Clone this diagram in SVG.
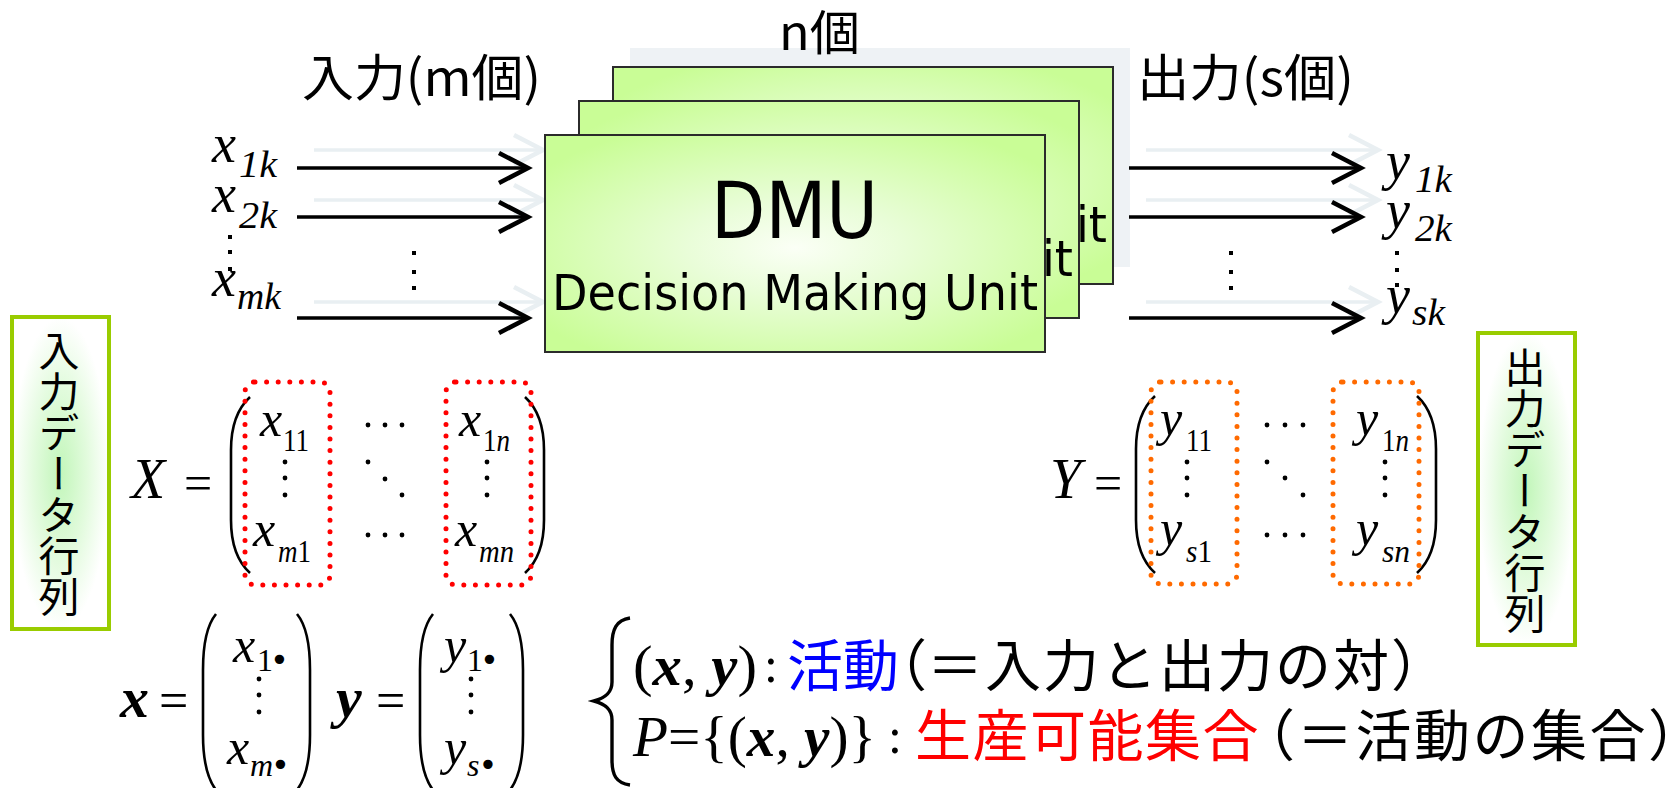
<svg xmlns="http://www.w3.org/2000/svg" width="1672" height="788" viewBox="0 0 1672 788">
<defs>
  <radialGradient id="gBox" cx="50%" cy="52%" r="62%">
    <stop offset="0" stop-color="#fbfff6"/>
    <stop offset="0.35" stop-color="#e9fdd8"/>
    <stop offset="1" stop-color="#c9fd96"/>
  </radialGradient>
  <radialGradient id="gLabel" cx="50%" cy="50%" r="50%">
    <stop offset="0" stop-color="#c2f6ba"/>
    <stop offset="0.55" stop-color="#e2fbdd"/>
    <stop offset="1" stop-color="#ffffff"/>
  </radialGradient>
  <marker id="ah" markerUnits="userSpaceOnUse" markerWidth="38" markerHeight="38" viewBox="0 0 38 38" refX="33" refY="19" orient="auto">
    <path d="M4,4 L33,19 L4,34" fill="none" stroke="#000" stroke-width="4.5"/>
  </marker>
  <marker id="ahg" markerUnits="userSpaceOnUse" markerWidth="38" markerHeight="38" viewBox="0 0 38 38" refX="33" refY="19" orient="auto">
    <path d="M4,4 L33,19 L4,34" fill="none" stroke="#e9eff2" stroke-width="4.5"/>
  </marker>
  <style>
    .cjk{font-family:"Noto Sans CJK JP","Noto Sans CJK SC",sans-serif;fill:#000}
    .m{font-family:"Liberation Serif",serif;font-style:italic;fill:#000}
    .r{font-family:"Liberation Serif",serif;font-style:normal}
    .bi{font-family:"Liberation Serif",serif;font-style:italic;font-weight:bold}
    .bul{font-family:"DejaVu Sans",sans-serif;font-style:normal}
    .box{stroke:#2b2b2b;stroke-width:2;fill:url(#gBox)}
    .dmu{font-family:"DejaVu Sans",sans-serif;fill:#000}
    .arrow{stroke:#000;stroke-width:3.6;fill:none;marker-end:url(#ah)}
    .garrow{stroke:#e9eff2;stroke-width:3.6;fill:none;marker-end:url(#ahg)}
    .redbox{fill:none;stroke:#ff0000;stroke-width:5;stroke-dasharray:0 11.6;stroke-linecap:round}
    .orbox{fill:none;stroke:#ff6a00;stroke-width:5;stroke-dasharray:0 11.6;stroke-linecap:round}
    .paren{fill:none;stroke:#000;stroke-width:2.6}
    .label{fill:url(#gLabel);stroke:#99cc00;stroke-width:4}
    .vtext{writing-mode:vertical-rl}
  </style>
</defs>

<!-- faint shadow layer -->
<g id="shadow">
  <rect x="630" y="48" width="500" height="219" fill="#eef2f5"/>
  <line class="garrow" x1="314" y1="150" x2="543" y2="150"/>
  <line class="garrow" x1="314" y1="200" x2="543" y2="200"/>
  <line class="garrow" x1="314" y1="302" x2="543" y2="302"/>
  <line class="garrow" x1="1146" y1="150" x2="1378" y2="150"/>
  <line class="garrow" x1="1146" y1="200" x2="1378" y2="200"/>
  <line class="garrow" x1="1146" y1="302" x2="1378" y2="302"/>
</g>

<!-- titles -->
<g id="title-input"><text class="cjk" x="302" y="96" font-size="50" textLength="239" lengthAdjust="spacingAndGlyphs">入力(m個)</text></g>
<g id="title-n"><text class="cjk" x="779" y="50" font-size="48" textLength="81" lengthAdjust="spacingAndGlyphs">n個</text></g>
<g id="title-output"><text class="cjk" x="1137" y="96" font-size="50" textLength="217" lengthAdjust="spacingAndGlyphs">出力(s個)</text></g>

<!-- DMU stack -->
<g id="dmu-3">
  <rect class="box" x="613" y="67" width="500" height="217"/>
  <text class="dmu" x="1076" y="242" font-size="50" textLength="31" lengthAdjust="spacingAndGlyphs">it</text>
</g>
<g id="dmu-2">
  <rect class="box" x="579" y="101" width="500" height="217"/>
  <text class="dmu" x="1042" y="276" font-size="50" textLength="31" lengthAdjust="spacingAndGlyphs">it</text>
</g>
<g id="dmu-1">
  <rect class="box" x="545" y="135" width="500" height="217"/>
  <text class="dmu" x="711" y="238" font-size="78" textLength="167" lengthAdjust="spacingAndGlyphs">DMU</text>
  <text class="dmu" x="552" y="310" font-size="50" textLength="486" lengthAdjust="spacingAndGlyphs">Decision Making Unit</text>
</g>

<!-- input variables -->
<g id="inputs">
  <text class="m" x="212" y="162" font-size="54">x</text><text class="m" x="239" y="177" font-size="38" textLength="38" lengthAdjust="spacingAndGlyphs">1k</text>
  <text class="m" x="212" y="212" font-size="54">x</text><text class="m" x="239" y="228" font-size="38" textLength="38" lengthAdjust="spacingAndGlyphs">2k</text>
  <rect x="228" y="235" width="4" height="4"/><rect x="228" y="250" width="4" height="4"/><rect x="228" y="267" width="4" height="4"/>
  <text class="m" x="212" y="296" font-size="54">x</text><text class="m" x="237" y="309" font-size="38" textLength="44" lengthAdjust="spacingAndGlyphs">mk</text>
  <rect x="412" y="251" width="4" height="4"/><rect x="412" y="270" width="4" height="4"/><rect x="412" y="286" width="4" height="4"/>
</g>

<!-- output variables -->
<g id="outputs">
  <text class="m" x="1386" y="179" font-size="54">y</text><text class="m" x="1415" y="192" font-size="38" textLength="37" lengthAdjust="spacingAndGlyphs">1k</text>
  <text class="m" x="1386" y="228" font-size="54">y</text><text class="m" x="1415" y="241" font-size="38" textLength="37" lengthAdjust="spacingAndGlyphs">2k</text>
  <rect x="1395" y="251" width="4" height="4"/><rect x="1395" y="268" width="4" height="4"/><rect x="1395" y="283" width="4" height="4"/>
  <text class="m" x="1386" y="313" font-size="54">y</text><text class="m" x="1412" y="325" font-size="38" textLength="33" lengthAdjust="spacingAndGlyphs">sk</text>
  <rect x="1229" y="251" width="4" height="4"/><rect x="1229" y="270" width="4" height="4"/><rect x="1229" y="286" width="4" height="4"/>
</g>

<!-- connectors -->
<g id="connectors">
  <line class="arrow" x1="297" y1="168" x2="528" y2="168"/>
  <line class="arrow" x1="297" y1="217" x2="528" y2="217"/>
  <line class="arrow" x1="297" y1="318" x2="528" y2="318"/>
  <line class="arrow" x1="1129" y1="168" x2="1361" y2="168"/>
  <line class="arrow" x1="1129" y1="217" x2="1361" y2="217"/>
  <line class="arrow" x1="1129" y1="318" x2="1361" y2="318"/>
</g>

<!-- side labels -->
<g id="label-input">
  <rect class="label" x="12" y="317" width="97" height="312"/>
  <text class="cjk vtext" x="59" y="330" font-size="41">入力データ行列</text>
</g>
<g id="label-output">
  <rect class="label" x="1478" y="333" width="97" height="312"/>
  <text class="cjk vtext" x="1525" y="347" font-size="41">出力データ行列</text>
</g>

<!-- input matrix X -->
<g id="matrix-x">
  <text class="m" x="131" y="498" font-size="56">X</text>
  <text class="r" x="184" y="500" font-size="50">=</text>
  <path class="paren" d="M250,397 C238,408 231,425 231,450 L231,520 C231,545 238,562 250,573"/>
  <path class="paren" d="M525,397 C537,408 544,425 544,450 L544,520 C544,545 537,562 525,573"/>
  <rect class="redbox" x="245" y="382" width="85" height="203" rx="10"/>
  <rect class="redbox" x="446" y="382" width="85" height="203" rx="10"/>
  <text class="m" x="260" y="436" font-size="50">x</text><text class="r" x="283" y="451" font-size="32" textLength="26" lengthAdjust="spacingAndGlyphs">11</text>
  <text class="m" x="253" y="546" font-size="50">x</text><text class="r" x="278" y="562" font-size="32" textLength="33" lengthAdjust="spacingAndGlyphs"><tspan font-style="italic">m</tspan>1</text>
  <text class="m" x="459" y="436" font-size="50">x</text><text class="r" x="483" y="451" font-size="32" textLength="27" lengthAdjust="spacingAndGlyphs">1<tspan font-style="italic">n</tspan></text>
  <text class="m" x="455" y="546" font-size="50">x</text><text class="m" x="479" y="562" font-size="32" textLength="35" lengthAdjust="spacingAndGlyphs">mn</text>
  <g fill="#000">
    <circle cx="285" cy="462" r="2.4"/><circle cx="285" cy="478" r="2.4"/><circle cx="285" cy="495" r="2.4"/>
    <circle cx="487" cy="462" r="2.4"/><circle cx="487" cy="478" r="2.4"/><circle cx="487" cy="495" r="2.4"/>
    <circle cx="368" cy="425" r="2.4"/><circle cx="385" cy="425" r="2.4"/><circle cx="402" cy="425" r="2.4"/>
    <circle cx="368" cy="462" r="2.4"/><circle cx="385" cy="479" r="2.4"/><circle cx="402" cy="495" r="2.4"/>
    <circle cx="368" cy="535" r="2.4"/><circle cx="385" cy="535" r="2.4"/><circle cx="402" cy="535" r="2.4"/>
  </g>
</g>

<!-- output matrix Y -->
<g id="matrix-y">
  <text class="m" x="1050" y="498" font-size="56">Y</text>
  <text class="r" x="1094" y="500" font-size="50">=</text>
  <path class="paren" d="M1155,396 C1143,407 1136,424 1136,449 L1136,520 C1136,545 1143,562 1155,573"/>
  <path class="paren" d="M1417,396 C1429,407 1436,424 1436,449 L1436,520 C1436,545 1429,562 1417,573"/>
  <rect class="orbox" x="1151" y="382" width="86" height="202" rx="10"/>
  <rect class="orbox" x="1333" y="382" width="86" height="202" rx="10"/>
  <text class="m" x="1160" y="435" font-size="50">y</text><text class="r" x="1186" y="451" font-size="32" textLength="26" lengthAdjust="spacingAndGlyphs">11</text>
  <text class="m" x="1160" y="545" font-size="50">y</text><text class="r" x="1186" y="562" font-size="32" textLength="26" lengthAdjust="spacingAndGlyphs"><tspan font-style="italic">s</tspan>1</text>
  <text class="m" x="1356" y="435" font-size="50">y</text><text class="r" x="1382" y="451" font-size="32" textLength="27" lengthAdjust="spacingAndGlyphs">1<tspan font-style="italic">n</tspan></text>
  <text class="m" x="1356" y="545" font-size="50">y</text><text class="m" x="1382" y="562" font-size="32" textLength="28" lengthAdjust="spacingAndGlyphs">sn</text>
  <g fill="#000">
    <circle cx="1187" cy="462" r="2.4"/><circle cx="1187" cy="478" r="2.4"/><circle cx="1187" cy="495" r="2.4"/>
    <circle cx="1385" cy="462" r="2.4"/><circle cx="1385" cy="478" r="2.4"/><circle cx="1385" cy="495" r="2.4"/>
    <circle cx="1267" cy="425" r="2.4"/><circle cx="1285" cy="425" r="2.4"/><circle cx="1303" cy="425" r="2.4"/>
    <circle cx="1267" cy="462" r="2.4"/><circle cx="1285" cy="478" r="2.4"/><circle cx="1303" cy="495" r="2.4"/>
    <circle cx="1267" cy="535" r="2.4"/><circle cx="1285" cy="535" r="2.4"/><circle cx="1303" cy="535" r="2.4"/>
  </g>
</g>

<!-- vectors x, y -->
<g id="vector-x">
  <text class="bi" x="120" y="717" font-size="58">x</text>
  <text class="r" x="159" y="718" font-size="52">=</text>
  <path class="paren" d="M216,614 C207,625 203,645 203,670 L203,735 C203,760 207,778 216,790"/>
  <path class="paren" d="M297,614 C306,625 310,645 310,670 L310,735 C310,760 306,778 297,790"/>
  <text class="m" x="233" y="662" font-size="50">x</text><text class="r" x="257" y="671" font-size="32">1<tspan class="bul" font-size="32" dx="-3">•</tspan></text>
  <text class="m" x="227" y="764" font-size="50">x</text><text class="r" x="250" y="776" font-size="32"><tspan font-style="italic">m</tspan><tspan class="bul" font-size="32" dx="-2">•</tspan></text>
  <g fill="#000"><circle cx="259" cy="679" r="2.4"/><circle cx="259" cy="695" r="2.4"/><circle cx="259" cy="712" r="2.4"/></g>
</g>
<g id="vector-y">
  <text class="bi" x="336" y="717" font-size="58">y</text>
  <text class="r" x="376" y="718" font-size="52">=</text>
  <path class="paren" d="M433,614 C424,625 420,645 420,670 L420,735 C420,760 424,778 433,790"/>
  <path class="paren" d="M510,614 C519,625 523,645 523,670 L523,735 C523,760 519,778 510,790"/>
  <text class="m" x="444" y="662" font-size="50">y</text><text class="r" x="467" y="671" font-size="32">1<tspan class="bul" font-size="32" dx="-3">•</tspan></text>
  <text class="m" x="444" y="764" font-size="50">y</text><text class="r" x="467" y="776" font-size="32"><tspan font-style="italic">s</tspan><tspan class="bul" font-size="32" dx="-1">•</tspan></text>
  <g fill="#000"><circle cx="471" cy="679" r="2.4"/><circle cx="471" cy="695" r="2.4"/><circle cx="471" cy="712" r="2.4"/></g>
</g>

<!-- definitions -->
<g id="definitions">
  <path d="M630,618 C616,620 612,630 612,645 L612,682 C612,693 605,698 594,701 C605,704 612,709 612,720 L612,760 C612,775 616,783 630,785" fill="none" stroke="#000" stroke-width="3.4"/>
  <text class="r" x="633" y="685" font-size="58" textLength="124" lengthAdjust="spacingAndGlyphs">(<tspan class="bi">x</tspan>, <tspan class="bi">y</tspan>)</text>
  <text class="r" x="764" y="682" font-size="50">:</text>
  <text class="cjk" y="686" font-size="56"><tspan x="787" style="fill:#0000ff">活動</tspan><tspan x="871">（</tspan><tspan x="927" letter-spacing="2">＝入力と出力の対）</tspan></text>
  <text class="r" x="633" y="756" font-size="58" textLength="243" lengthAdjust="spacingAndGlyphs"><tspan font-style="italic">P</tspan>={(<tspan class="bi">x</tspan>, <tspan class="bi">y</tspan>)}</text>
  <text class="r" x="888" y="753" font-size="50">:</text>
  <text class="cjk" y="756" font-size="56"><tspan x="915" style="fill:#ff0000" letter-spacing="1.5">生産可能集合</tspan><tspan x="1239">（</tspan><tspan x="1297" letter-spacing="2.5">＝活動の集合）</tspan></text>
</g>
</svg>
